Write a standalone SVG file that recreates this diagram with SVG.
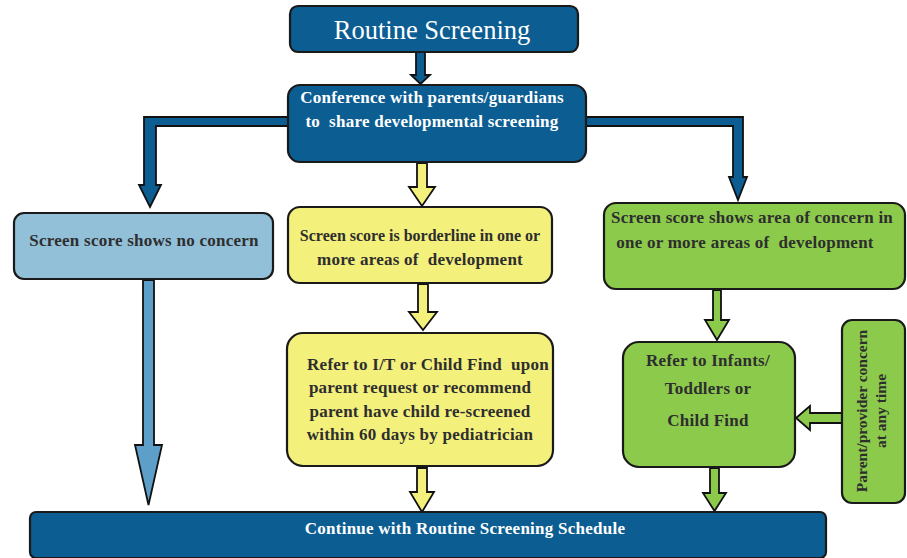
<svg xmlns="http://www.w3.org/2000/svg" width="907" height="558" viewBox="0 0 907 558">
<style>
.box{stroke:#1a1a1a;stroke-width:2.2}
.dk{fill:#0b5d92}
.lb{fill:#93c0d9}
.yl{fill:#f4f07c}
.gr{fill:#8cca4c}
.arr{stroke:#111;stroke-width:1.8;stroke-linejoin:miter}
.t{font-family:"Liberation Serif",serif;font-weight:bold;font-size:17px;letter-spacing:0.25px;fill:#2e2e2e;text-anchor:middle}
.v{font-size:15.5px;letter-spacing:0}
.w{fill:#ffffff}
</style>
<rect width="907" height="558" fill="#ffffff"/>
<g id="connectors">
<polygon class="arr dk" points="416,52 425,52 425,75 430,75 420.5,84 411,75 416,75"/>
<polygon class="arr dk" points="290,117 144,117 144,185 139,185 150,207 161,185 156,185 156,126 290,126"/>
<polygon class="arr dk" points="585,117 743,117 743,177 747,177 738,200 729,177 733,177 733,126 585,126"/>
<polygon class="arr yl" points="417,163 427,163 427,187 435,187 422,206 409,187 417,187"/>
<polygon class="arr" fill="#5e9fca" points="143,280 154,280 154,445 162,445 148.5,505 135,445 143,445"/>
<polygon class="arr yl" points="418,284 428,284 428,312 437,312 423,330 409,312 418,312"/>
<polygon class="arr gr" points="713,290 721,290 721,320 729,320 717,340 705,320 713,320"/>
<polygon class="arr gr" points="843,413 810,413 810,406 796,418 810,430 810,423 843,423"/>
<polygon class="arr yl" points="417,468 427,468 427,492 434,492 422,512 410,492 417,492"/>
<polygon class="arr gr" points="710,468 719,468 719,493 726,493 714.5,511 703,493 710,493"/>
</g>
<g id="routine">
<rect class="box dk" x="290" y="6" width="288" height="46" rx="8"/>
<text x="432" y="39" font-family="Liberation Serif, serif" font-size="26.5" fill="#ffffff" text-anchor="middle">Routine Screening</text>
</g>
<g id="conference">
<rect class="box dk" x="288" y="85" width="298" height="77" rx="12"/>
<text class="t w" x="432" y="103">Conference with parents/guardians</text>
<text class="t w" x="432" y="127" xml:space="preserve">to  share developmental screening</text>
</g>
<g id="noconcern">
<rect class="box lb" x="14" y="213" width="259" height="66" rx="10"/>
<text class="t" x="144" y="246">Screen score shows no concern</text>
</g>
<g id="borderline">
<rect class="box yl" x="288" y="207" width="264" height="76" rx="12"/>
<text class="t" x="420" y="241" style="font-size:16px;letter-spacing:0">Screen score is borderline in one or</text>
<text class="t" x="420" y="265" xml:space="preserve">more areas of  development</text>
</g>
<g id="concern">
<rect class="box gr" x="604" y="203" width="301" height="86" rx="12"/>
<text class="t" x="752" y="223">Screen score shows area of concern in</text>
<text class="t" x="745" y="248" xml:space="preserve">one or more areas of  development</text>
</g>
<g id="refer-it">
<rect class="box yl" x="287" y="333" width="266" height="133" rx="16"/>
<text class="t" x="428" y="370" xml:space="preserve">Refer to I/T or Child Find  upon</text>
<text class="t" x="420" y="393">parent request or recommend</text>
<text class="t" x="420" y="417">parent have child re-screened</text>
<text class="t" x="420" y="440">within 60 days by pediatrician</text>
</g>
<g id="refer-infants">
<rect class="box gr" x="623" y="342" width="172" height="125" rx="16"/>
<text class="t" x="708" y="366">Refer to Infants/</text>
<text class="t" x="708" y="394">Toddlers or</text>
<text class="t" x="708" y="426">Child Find</text>
</g>
<g id="parent-concern">
<rect class="box gr" x="842" y="320" width="63" height="183" rx="10"/>
<text class="t v" transform="translate(867,411) rotate(-90)">Parent/provider concern</text>
<text class="t v" transform="translate(886,411) rotate(-90)">at any time</text>
</g>
<g id="continue">
<rect class="box dk" x="30" y="512" width="796" height="46" rx="6"/>
<text class="t w" x="465" y="534">Continue with Routine Screening Schedule</text>
</g>
</svg>
